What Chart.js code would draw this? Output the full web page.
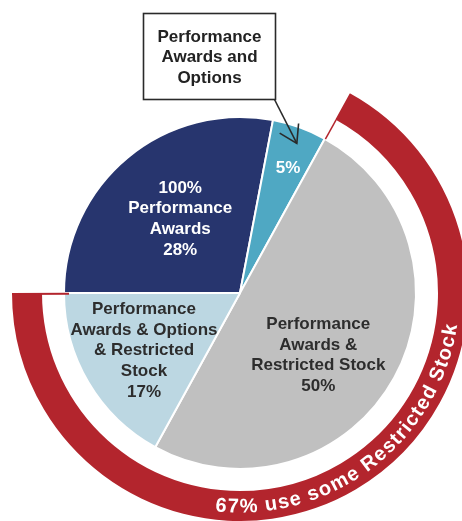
<!DOCTYPE html>
<html><head><meta charset="utf-8">
<script src="https://cdn.jsdelivr.net/npm/chart.js@4"></script>
<style>html,body{margin:0;padding:0;background:#fff;overflow:hidden}canvas{display:block}</style>
</head><body>
<canvas id="c" width="462" height="521"></canvas>
<script>
// ---- data ----
const categories = ['100% Performance Awards', 'Performance Awards and Options', 'Performance Awards & Restricted Stock', 'Performance Awards & Options & Restricted Stock'];
const shares = [28, 5, 50, 17];
const ringValues = [33, 67];           // [no restricted stock, some restricted stock]
const sliceLabels = [
  ['100%', 'Performance', 'Awards', '28%'],
  ['5%'],
  ['Performance', 'Awards &', 'Restricted Stock', '50%'],
  ['Performance', 'Awards & Options', '& Restricted', 'Stock', '17%']
];
const calloutLines = ['Performance', 'Awards and', 'Options'];
const ringText = '67% use some Restricted Stock';

// ---- styles / layout ----
const sliceColors = ['#27356e', '#4fa8c3', '#c0c0c0', '#bcd7e2'];
const labelColors = ['#ffffff', '#ffffff', '#2d2d2d', '#2d2d2d'];
const RED = '#b3252d';
const labelAnchors = [[321, 95], [21, 134], [128.5, 100], [239, 112]]; // [deg clockwise from top, radius px]
const FONT = '"Liberation Sans", Arial, Helvetica, sans-serif';

const overlay = {
  id: 'overlay',
  afterDatasetsDraw(chart) {
    const ctx = chart.ctx;
    const pieMeta = chart.getDatasetMeta(2);
    const ringMeta = chart.getDatasetMeta(0);
    const p0 = pieMeta.data[0];
    const cx = p0.x, cy = p0.y, pieR = p0.outerRadius;
    const polar = (deg, r) => { const a = deg * Math.PI / 180; return [cx + r * Math.sin(a), cy - r * Math.cos(a)]; };
    ctx.save();

    // thin red edge lines at the ring ends
    const redArc = ringMeta.data[1];
    ctx.strokeStyle = RED; ctx.lineWidth = 1.5;
    const seg = (ang, r1, r2) => {
      ctx.beginPath();
      ctx.moveTo(cx + r1 * Math.cos(ang), cy + r1 * Math.sin(ang));
      ctx.lineTo(cx + r2 * Math.cos(ang), cy + r2 * Math.sin(ang));
      ctx.stroke();
    };
    seg(redArc.startAngle + 0.004, redArc.innerRadius, pieR);
    ctx.lineWidth = 2;
    seg(redArc.endAngle - 0.004, redArc.outerRadius, pieR - 5);

    // slice labels
    ctx.font = 'bold 17px ' + FONT;
    ctx.textAlign = 'center'; ctx.textBaseline = 'middle';
    const lh = 20.8;
    sliceLabels.forEach((lines, i) => {
      const [x, y] = polar(labelAnchors[i][0], labelAnchors[i][1]);
      ctx.fillStyle = labelColors[i];
      lines.forEach((t, j) => ctx.fillText(t, x, y + (j - (lines.length - 1) / 2) * lh));
    });

    // callout box
    ctx.strokeStyle = '#2a2a2a'; ctx.lineWidth = 1.6;
    ctx.fillStyle = '#ffffff';
    ctx.fillRect(143.5, 13.5, 132, 86);
    ctx.strokeRect(143.5, 13.5, 132, 86);
    ctx.fillStyle = '#222222';
    calloutLines.forEach((t, j) => ctx.fillText(t, 209.5, 37 + j * 20.5));
    // arrow to the 5% slice
    const [tx, ty] = polar(20.8, 160);
    const sx = 274.5, sy = 99.5;
    ctx.beginPath(); ctx.moveTo(sx, sy); ctx.lineTo(tx, ty); ctx.stroke();
    const back = Math.atan2(sy - ty, sx - tx);
    const wl = 20, wa = 32 * Math.PI / 180;
    ctx.beginPath();
    ctx.moveTo(tx + wl * Math.cos(back + wa), ty + wl * Math.sin(back + wa));
    ctx.lineTo(tx, ty);
    ctx.lineTo(tx + wl * Math.cos(back - wa), ty + wl * Math.sin(back - wa));
    ctx.stroke();

    // curved ring text
    ctx.font = 'bold 20px ' + FONT;
    ctx.fillStyle = '#ffffff';
    ctx.textAlign = 'center'; ctx.textBaseline = 'middle';
    const r = (redArc.innerRadius + redArc.outerRadius) / 2 + 1;
    const chars = [...ringText];
    const sp = 1;
    const widths = chars.map(c => ctx.measureText(c).width);
    const total = widths.reduce((a, b) => a + b, 0) + sp * (chars.length - 1);
    const centerDeg = 142.5;
    const th0 = centerDeg * Math.PI / 180 + total / 2 / r;
    let s = 0;
    chars.forEach((ch, i) => {
      const th = th0 - (s + widths[i] / 2) / r;
      const x = cx + r * Math.sin(th), y = cy - r * Math.cos(th);
      ctx.save(); ctx.translate(x, y); ctx.rotate(th - Math.PI); ctx.fillText(ch, 0, 0); ctx.restore();
      s += widths[i] + sp;
    });
    ctx.restore();
  }
};

new Chart(document.getElementById('c'), {
  type: 'pie',
  data: {
    labels: categories,
    datasets: [
      { label: 'Restricted stock', data: ringValues, backgroundColor: ['rgba(0,0,0,0)', RED], borderWidth: 0, weight: 30, rotation: -90, radius: 228 },
      { label: 'gap', data: [100], backgroundColor: ['rgba(0,0,0,0)'], borderWidth: 0, weight: 22, rotation: -90, radius: 228 },
      { label: 'Share', data: shares, backgroundColor: sliceColors, borderColor: '#ffffff', borderWidth: 2, weight: 176, rotation: -90, radius: 228 }
    ]
  },
  options: {
    responsive: false,
    animation: false,
    rotation: -90,
    radius: 228,
    clip: false,
    layout: { padding: { left: 40, right: 22, top: 93, bottom: 28 } },
    plugins: { legend: { display: false }, tooltip: { enabled: false } },
    events: []
  },
  plugins: [overlay]
});
</script>
</body></html>
